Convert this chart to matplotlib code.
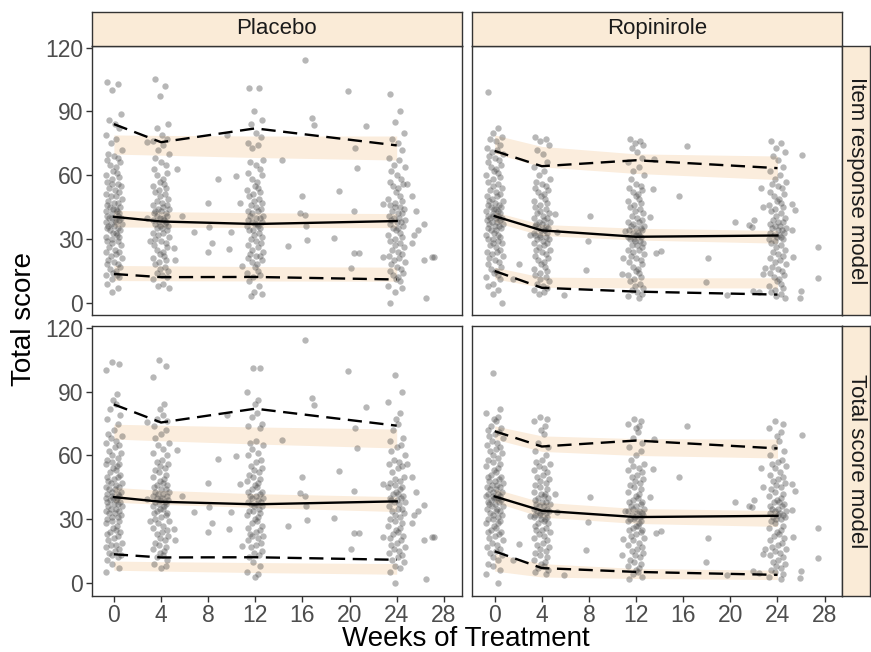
"""Observed total scores vs. model prediction intervals, faceted by arm and model."""

import matplotlib
matplotlib.use("Agg")
import matplotlib.pyplot as plt
import numpy as np

plt.rcParams["font.family"] = ["Liberation Sans", "DejaVu Sans"]

WEEKS = [0, 4, 12, 24]
ARMS = ["Placebo", "Ropinirole"]
MODELS = ["Item response model", "Total score model"]

# ── Observed scores at the scheduled visits ──────────────────────────────
PLA_WK0 = [104, 103, 100, 89, 86, 84, 82, 79, 77, 75, 72, 70, 69, 68, 67, 66, 65, 64,
           62, 61, 60, 59, 58, 57, 56, 56, 55, 54, 53, 52, 51, 50, 50, 49, 48, 47, 47,
           46, 45, 45, 44, 44, 43, 43, 42, 42, 41, 41, 40, 40, 40, 39, 39, 38, 38, 37,
           37, 36, 36, 35, 35, 34, 34, 33, 33, 32, 31, 31, 30, 29, 29, 28, 27, 26, 25,
           24, 24, 23, 22, 21, 20, 19, 18, 18, 17, 16, 15, 14, 13, 13, 12, 11, 9, 7, 5]
PLA_WK4 = [105, 102, 97, 84, 82, 79, 77, 76, 74, 72, 70, 68, 66, 65, 63, 61, 60, 58,
           57, 56, 55, 54, 53, 52, 51, 50, 49, 48, 47, 46, 46, 45, 44, 44, 43, 43, 42,
           42, 41, 41, 40, 40, 39, 39, 38, 38, 37, 37, 36, 36, 35, 35, 34, 33, 33, 32,
           31, 30, 29, 28, 27, 26, 25, 24, 23, 22, 21, 20, 19, 18, 17, 16, 15, 14, 13,
           12, 11, 9, 8, 7]
PLA_WK12 = [101, 101, 90, 86, 84, 80, 78, 75, 74, 73, 67, 66, 65, 63, 61, 60, 58, 57,
            55, 54, 53, 52, 51, 50, 49, 48, 47, 46, 45, 44, 43, 43, 42, 41, 41, 40, 40,
            39, 38, 38, 37, 37, 36, 36, 35, 34, 34, 33, 32, 31, 30, 29, 28, 27, 26, 25,
            24, 23, 22, 22, 21, 20, 19, 18, 17, 15, 14, 13, 12, 10, 8, 5, 4, 3]
PLA_WK24 = [98, 90, 85, 80, 77, 75, 72, 68, 67, 65, 64, 62, 60, 58, 57, 56, 55, 54, 52,
            50, 49, 48, 47, 46, 45, 45, 44, 43, 42, 42, 41, 40, 40, 39, 39, 38, 38, 37,
            36, 35, 35, 34, 33, 32, 31, 30, 29, 28, 27, 26, 25, 24, 23, 22, 21, 20, 19,
            18, 17, 16, 15, 14, 13, 12, 11, 10, 8, 7, 5, 0]

ROP_WK0 = [99, 82, 80, 78, 77, 76, 74, 73, 72, 71, 70, 69, 68, 67, 66, 65, 64, 63, 62,
           61, 60, 59, 58, 57, 56, 55, 54, 53, 52, 51, 50, 50, 49, 48, 48, 47, 46, 46,
           45, 45, 44, 44, 43, 43, 42, 42, 41, 41, 41, 40, 40, 40, 39, 39, 38, 38, 37,
           37, 36, 36, 35, 35, 34, 34, 33, 32, 32, 31, 30, 30, 29, 28, 28, 27, 26, 25,
           24, 24, 23, 22, 21, 20, 19, 18, 17, 16, 15, 14, 13, 12, 11, 9, 8, 6, 4, 0]
ROP_WK4 = [78, 77, 76, 74, 72, 70, 66, 64, 62, 60, 58, 57, 56, 55, 54, 53, 52, 51, 50,
           49, 48, 47, 46, 45, 44, 43, 42, 42, 41, 40, 40, 39, 38, 38, 37, 37, 36, 36,
           35, 35, 34, 34, 34, 33, 33, 32, 32, 31, 31, 30, 30, 29, 28, 28, 27, 26, 25,
           25, 24, 23, 22, 21, 20, 19, 18, 17, 16, 15, 14, 13, 12, 11, 10, 9, 8, 7, 6, 5, 4]
ROP_WK12 = [77, 76, 75, 74, 73, 71, 68, 66, 64, 62, 60, 58, 56, 55, 54, 53, 52, 51, 50,
            49, 48, 47, 46, 45, 44, 43, 42, 41, 40, 39, 38, 38, 37, 36, 36, 35, 35, 34,
            34, 33, 33, 32, 32, 31, 31, 30, 30, 29, 29, 28, 27, 27, 26, 25, 25, 24, 23,
            22, 21, 20, 19, 18, 17, 16, 15, 14, 13, 12, 11, 10, 9, 8, 7, 6, 5, 4, 3, 2]
ROP_WK24 = [76, 75, 73, 71, 69, 67, 64, 62, 60, 58, 57, 56, 55, 54, 52, 51, 50, 49, 48,
            47, 46, 45, 44, 43, 42, 41, 40, 39, 38, 38, 37, 36, 36, 35, 35, 34, 34, 33,
            33, 32, 32, 31, 31, 30, 30, 29, 28, 27, 26, 25, 24, 23, 22, 21, 20, 19, 18,
            17, 16, 15, 14, 13, 12, 11, 10, 9, 8, 7, 6, 5, 4, 3, 2]

# ── Observed scores at off-schedule visits (week, score) ─────────────────
PLA_EXTRA_WEEK = [2.8, 2.8, 3.1, 5.35, 5.8, 5.1, 5.2, 6.8, 8.0, 8.8, 8.1, 8.3, 8.0, 9.6,
                  9.9, 9.8, 10.4, 10.7, 10.9, 14.3, 14.8, 16.2, 16.8, 17.0, 16.0, 15.8,
                  16.2, 16.3, 16.4, 18.7, 19.1, 19.9, 20.1, 20.4, 20.4, 20.8, 20.5, 20.6,
                  21.4, 22.8, 22.8, 24.9, 25.3, 25.6, 25.8, 25.5, 25.3, 26.3, 26.3, 27.0,
                  27.2, 26.5]
PLA_EXTRA_SCORE = [75.5, 39.6, 29, 62.7, 40.8, 25.5, 20.3, 33.3, 47, 58.3, 35.6, 28.1,
                   23.9, 79, 33.3, 25.3, 59.5, 46.7, 17.2, 67.2, 26.6, 114.4, 86.9, 83.8,
                   50.0, 42.2, 41.1, 36, 29.4, 30.5, 52.5, 99.6, 16.1, 43.1, 23.6, 23.6,
                   72.8, 63.3, 83, 46.6, 21.6, 56, 50, 43, 34, 32, 28, 36.8, 20, 21.6,
                   21.6, 2]
ROP_EXTRA_WEEK = [1.55, 2.1, 3.0, 5.1, 5.3, 5.9, 7.75, 7.9, 8.1, 10.8, 10.9, 11.05, 13.2,
                  13.4, 13.5, 13.7, 14.1, 15.6, 16.3, 17.9, 18.1, 19.7, 20.4, 21.6, 21.8,
                  22.0, 22.6, 22.8, 22.9, 22.8, 21.95, 22.4, 25.25, 25.5, 25.2, 25.3,
                  26.0, 25.95, 27.4, 27.45, 26.1]
ROP_EXTRA_SCORE = [11, 18.1, 31.7, 41.9, 33.3, 3.6, 15.3, 28.9, 40.6, 13.3, 20.8, 33.8,
                   40.3, 53.6, 67.7, 23.6, 24.4, 50, 73.9, 9.8, 21.1, 3.6, 38, 36.4, 35.6,
                   39.1, 53.9, 45, 16.1, 13.4, 5.6, 4.9, 46.6, 43.5, 34.1, 21.6, 5.6, 2.3,
                   26, 11.7, 69.4]

# ── Observed percentiles per visit (5th, 50th, 95th) ─────────────────────
PLA_OBS_P05 = [13.5, 12.0, 12.1, 10.9]
PLA_OBS_P50 = [40.4, 38.2, 37.0, 38.4]
PLA_OBS_P95 = [84.0, 75.5, 82.0, 74.0]
ROP_OBS_P05 = [14.9, 7.0, 5.2, 3.8]
ROP_OBS_P50 = [40.7, 34.0, 31.0, 31.6]
ROP_OBS_P95 = [71.4, 64.2, 67.0, 63.3]

# ── Simulated prediction intervals of each percentile (lo, hi) ───────────
IRT_PLA_P05_LO = [10.4, 10.3, 10.2, 10.1]
IRT_PLA_P05_HI = [17.5, 17.3, 17.0, 16.7]
IRT_PLA_P50_LO = [35.6, 35.5, 35.4, 35.3]
IRT_PLA_P50_HI = [43.5, 42.8, 42.3, 41.9]
IRT_PLA_P95_LO = [69.9, 69.4, 68.3, 67.1]
IRT_PLA_P95_HI = [78.9, 78.7, 78.4, 78.4]

TS_PLA_P05_LO = [6.0, 5.6, 4.9, 4.1]
TS_PLA_P05_HI = [10.3, 10.0, 9.6, 9.1]
TS_PLA_P50_LO = [38.0, 37.0, 35.5, 33.6]
TS_PLA_P50_HI = [45.0, 43.6, 42.0, 40.6]
TS_PLA_P95_LO = [67.7, 66.9, 65.4, 63.5]
TS_PLA_P95_HI = [74.7, 74.2, 73.4, 72.4]

IRT_ROP_P05_LO = [11.2, 7.2, 7.0, 6.9]
IRT_ROP_P05_HI = [16.7, 12.0, 11.7, 11.7]
IRT_ROP_P50_LO = [37.9, 31.6, 29.5, 28.0]
IRT_ROP_P50_HI = [42.7, 36.8, 35.0, 34.0]
IRT_ROP_P95_LO = [70.2, 63.9, 60.8, 57.9]
IRT_ROP_P95_HI = [78.9, 73.5, 70.0, 69.0]

TS_ROP_P05_LO = [5.6, 2.8, 2.1, 1.6]
TS_ROP_P05_HI = [13.8, 9.1, 6.8, 6.0]
TS_ROP_P50_LO = [38.0, 31.0, 28.0, 26.6]
TS_ROP_P50_HI = [44.3, 38.0, 35.0, 34.1]
TS_ROP_P95_LO = [67.7, 61.9, 60.0, 58.8]
TS_ROP_P95_HI = [73.9, 69.2, 67.9, 67.7]

# ── Style ────────────────────────────────────────────────────────────────
_STRIP_FILL = "#FAEBD7"
_BAND_FILL = "#FBEDDD"
_POINT_COLOR = "#4D4D4D"
_FRAME = "#333333"
_TICK_TEXT = "#4D4D4D"
_DASH = (0, (6.0, 3.2))
# fixed horizontal spread for points sharing a visit week
_JITTER = np.array([-0.55, 0.32, -0.12, 0.61, -0.38, 0.08, 0.47, -0.66, 0.21, -0.24,
                    0.68, -0.47, 0.02, 0.38, -0.6, 0.54, -0.3, 0.15, -0.05, 0.27,
                    -0.7, 0.44, -0.18])

observed = {
    "Placebo": ([PLA_WK0, PLA_WK4, PLA_WK12, PLA_WK24], PLA_EXTRA_WEEK, PLA_EXTRA_SCORE,
                (PLA_OBS_P05, PLA_OBS_P50, PLA_OBS_P95)),
    "Ropinirole": ([ROP_WK0, ROP_WK4, ROP_WK12, ROP_WK24], ROP_EXTRA_WEEK, ROP_EXTRA_SCORE,
                   (ROP_OBS_P05, ROP_OBS_P50, ROP_OBS_P95)),
}
bands = {
    ("Item response model", "Placebo"): [(IRT_PLA_P05_LO, IRT_PLA_P05_HI),
                                         (IRT_PLA_P50_LO, IRT_PLA_P50_HI),
                                         (IRT_PLA_P95_LO, IRT_PLA_P95_HI)],
    ("Total score model", "Placebo"): [(TS_PLA_P05_LO, TS_PLA_P05_HI),
                                       (TS_PLA_P50_LO, TS_PLA_P50_HI),
                                       (TS_PLA_P95_LO, TS_PLA_P95_HI)],
    ("Item response model", "Ropinirole"): [(IRT_ROP_P05_LO, IRT_ROP_P05_HI),
                                            (IRT_ROP_P50_LO, IRT_ROP_P50_HI),
                                            (IRT_ROP_P95_LO, IRT_ROP_P95_HI)],
    ("Total score model", "Ropinirole"): [(TS_ROP_P05_LO, TS_ROP_P05_HI),
                                          (TS_ROP_P50_LO, TS_ROP_P50_HI),
                                          (TS_ROP_P95_LO, TS_ROP_P95_HI)],
}

fig = plt.figure(figsize=(8.71, 6.52), dpi=100)

W, H = 871.0, 652.0
col_left = [91.5, 472.3]
panel_w = 370.0
row_top = [45.7, 326.0]
panel_h = 269.5


def _frame(ax):
    for sp in ax.spines.values():
        sp.set_color(_FRAME)
        sp.set_linewidth(1.0)


for r, model in enumerate(MODELS):
    for c, arm in enumerate(ARMS):
        ax = fig.add_axes([col_left[c] / W, 1 - (row_top[r] + panel_h) / H,
                           panel_w / W, panel_h / H])
        visits, ex_w, ex_s, obs_pct = observed[arm]

        for lo, hi in bands[(model, arm)]:
            ax.fill_between(WEEKS, lo, hi, color=_BAND_FILL, linewidth=0, zorder=1)

        xs, ys = [], []
        for wk, scores in zip(WEEKS, visits):
            offs = np.resize(_JITTER if r == 0 else _JITTER[::-1], len(scores))
            xs.extend(wk + offs)
            ys.extend(scores)
        xs.extend(ex_w)
        ys.extend(ex_s)
        ax.scatter(xs, ys, s=21, color=_POINT_COLOR, alpha=0.4, linewidths=0, zorder=2)

        p05, p50, p95 = obs_pct
        ax.plot(WEEKS, p50, color="black", lw=1.7, zorder=3)
        ax.plot(WEEKS, p05, color="black", lw=1.7, ls=_DASH, zorder=3)
        ax.plot(WEEKS, p95, color="black", lw=1.7, ls=_DASH, zorder=3)

        ax.set_xlim(-1.9, 29.5)
        ax.set_ylim(-5.9, 120.9)
        ax.set_xticks(range(0, 29, 4))
        ax.set_yticks([0, 30, 60, 90, 120])
        ax.tick_params(colors=_FRAME, labelcolor=_TICK_TEXT, labelsize=16.5,
                       length=4, width=1.0, pad=2.0)
        ax.tick_params(bottom=(r == 1), labelbottom=(r == 1),
                       left=(c == 0), labelleft=(c == 0))
        _frame(ax)

        if r == 0:
            sax = fig.add_axes([col_left[c] / W, 1 - row_top[0] / H,
                                panel_w / W, 34.0 / H])
            sax.set_facecolor(_STRIP_FILL)
            sax.set_xticks([])
            sax.set_yticks([])
            _frame(sax)
            sax.text(0.5, 0.5, arm, ha="center", va="center", fontsize=16,
                     color="#1A1A1A", transform=sax.transAxes)
        if c == 1:
            rax = fig.add_axes([(col_left[1] + panel_w) / W, 1 - (row_top[r] + panel_h) / H,
                                27.5 / W, panel_h / H])
            rax.set_facecolor(_STRIP_FILL)
            rax.set_xticks([])
            rax.set_yticks([])
            _frame(rax)
            rax.text(0.5, 0.5, model, ha="center", va="center", rotation=-90,
                     fontsize=16, color="#1A1A1A", transform=rax.transAxes)

fig.text(0.027, 0.511, "Total score", rotation=90, ha="center", va="center", fontsize=20)
fig.text(0.535, 0.009, "Weeks of Treatment", ha="center", va="baseline", fontsize=20)

fig.savefig("out.png", dpi=100)
plt.close(fig)
